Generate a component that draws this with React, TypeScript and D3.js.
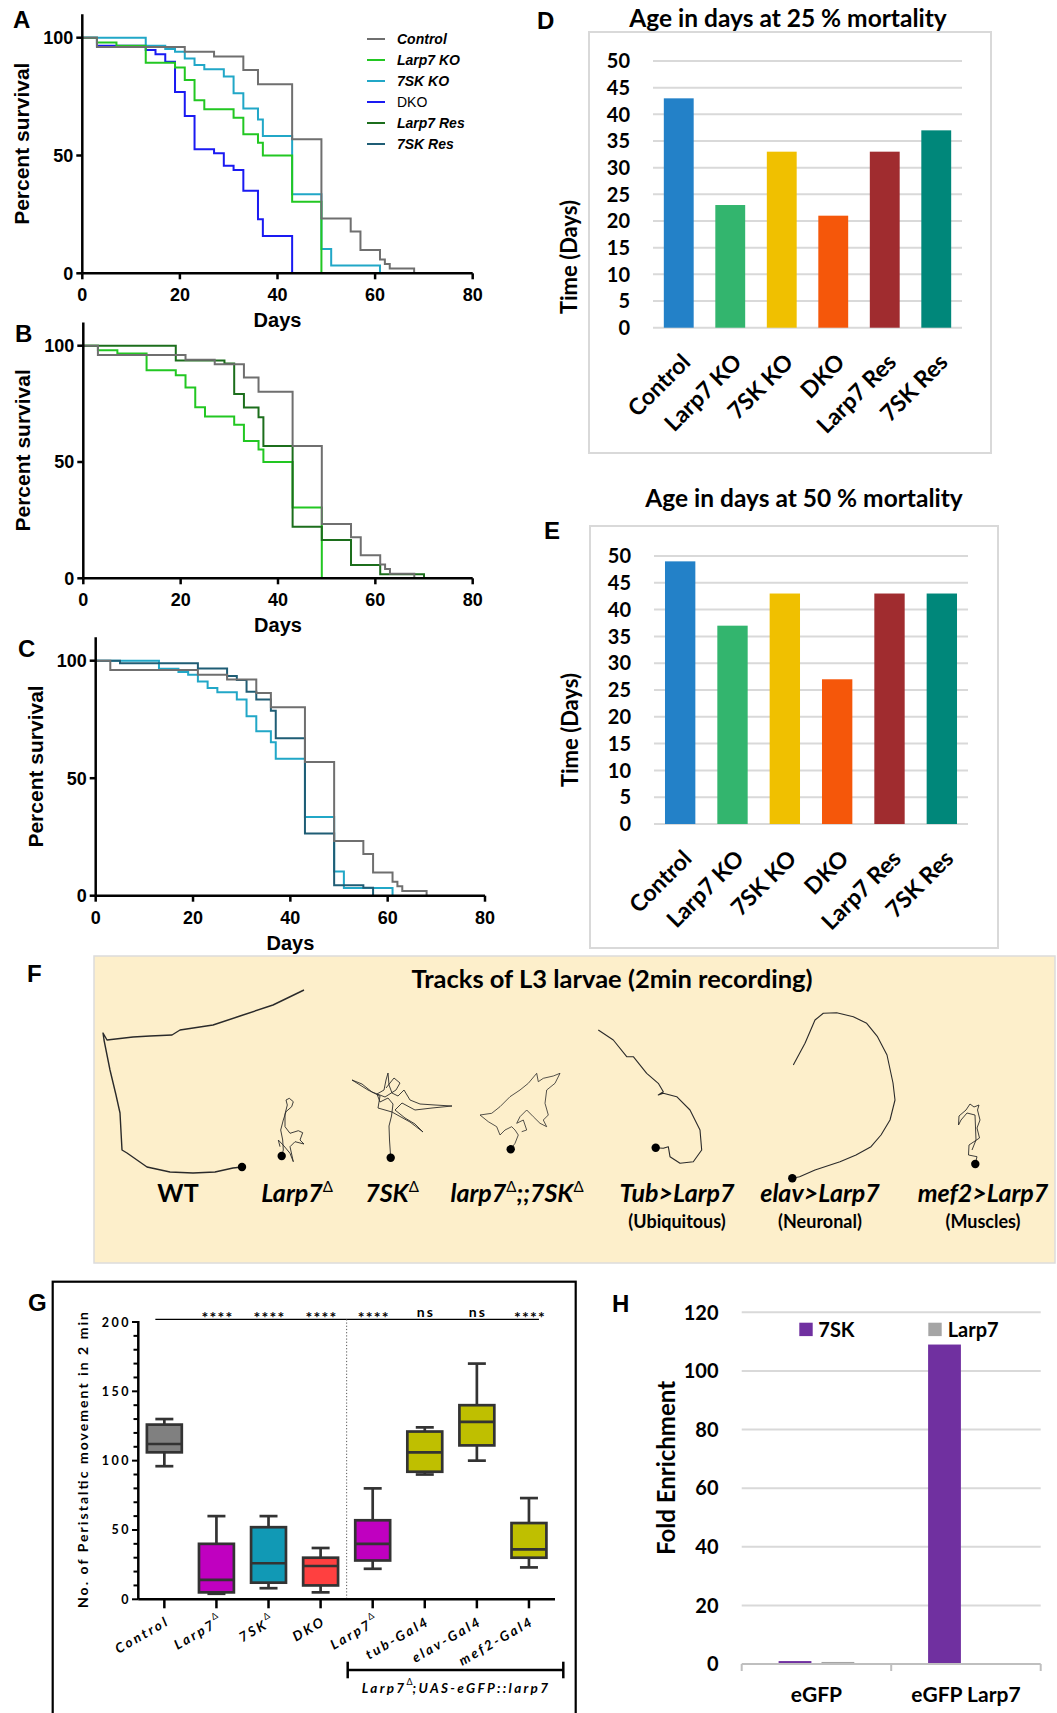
import * as React from 'react';
import * as d3 from 'd3';

const ARIAL = '"Liberation Sans", Arial, sans-serif';
const LATO = 'Lato, "Open Sans", sans-serif';

// ---- survival curves: [day, % surviving after that day] ----
const controlSurv: [number, number][] = [[0, 100], [3, 96], [21, 94], [27, 92], [33, 86.3], [36, 80.2], [43, 56.9], [49, 23.3], [55, 17.7], [57, 9.9], [61, 5.9], [62, 4], [63, 2], [68, 0]];
const larp7KoSurv: [number, number][] = [[0, 100], [3, 98], [7, 96.6], [13, 89.4], [19, 87.3], [21, 82], [23, 73.5], [25, 69.6], [31, 66], [33, 59], [36, 55.4], [37, 50], [43, 30.4], [49, 0]];
const sk7KoSurv: [number, number][] = [[0, 100], [13, 96.6], [17, 95.2], [19, 94], [21, 91.2], [23, 88.4], [25, 86.6], [29, 83.5], [31, 76.4], [33, 70], [36, 65.3], [37, 58.3], [43, 33.5], [49, 10.3], [51, 3.3], [61, 0]];
const dkoSurv: [number, number][] = [[0, 100], [3, 96.6], [13, 94.8], [15, 93], [17, 89.8], [19, 77], [21, 66.8], [23, 52.6], [27, 51], [29, 45.7], [31, 43.8], [33, 35], [36, 22.9], [37, 15.8], [43, 0]];
const larp7ResSurv: [number, number][] = [[0, 100], [19, 93.6], [29, 92.4], [31, 79.2], [33, 73.4], [36, 69.2], [37, 56.9], [43, 22.2], [49, 16.5], [55, 5.7], [61, 1.7], [70, 0]];
const sk7ResSurv: [number, number][] = [[0, 100], [5, 98.9], [21, 96.7], [27, 93.5], [29, 91.8], [31, 86.8], [33, 83.5], [36, 78.7], [37, 67], [43, 26.5], [49, 4.5], [55, 3.4], [57, 0]];

const survSeries = [controlSurv, larp7KoSurv, sk7KoSurv, dkoSurv, larp7ResSurv, sk7ResSurv];
const survNames = ['Control', 'Larp7 KO', '7SK KO', 'DKO', 'Larp7 Res', '7SK Res'];
const survColors = ['#6f6f6f', '#22c722', '#21a7c7', '#1a1af2', '#1c6e1c', '#1f5d75'];
const daysTicks = [0, 20, 40, 60, 80];
const percentTicks = [0, 50, 100];

// ---- age at 25 % / 50 % mortality ----
const mortCategories = ['Control', 'Larp7 KO', '7SK KO', 'DKO', 'Larp7 Res', '7SK Res'];
const mort25 = [43, 23, 33, 21, 33, 37];
const mort50 = [49, 37, 43, 27, 43, 43];
const mortTicks = [0, 5, 10, 15, 20, 25, 30, 35, 40, 45, 50];
const mortColors = ['#2381c8', '#33b56e', '#f0c000', '#f5570a', '#a02c2f', '#00877a'];

// ---- larval tracks (px inside the arena box, origin top-left) ----
const trackLabels = ['WT', 'Larp7^', '7SK^', 'larp7^;;7SK^', 'Tub>Larp7', 'elav>Larp7', 'mef2>Larp7'];
const trackSubLabels = ['', '', '', '', '(Ubiquitous)', '(Neuronal)', '(Muscles)'];
const trackLabelX = [84, 203, 298, 423, 583, 726, 889];
const trackWT: [number, number][] = [[210, 34], [179, 49], [146, 60], [119, 69], [86, 74], [78, 79], [56, 80], [39, 81], [13, 84], [9, 77], [10, 84], [16, 114], [22, 139], [26, 157], [28, 194], [33, 197], [53, 211], [76, 216], [99, 217], [121, 216], [139, 212], [148, 211]];
const trackLarp7: [number, number][] = [[187.7, 200], [189.3, 194], [188.7, 184], [186.7, 174], [189.3, 164], [192, 155.7], [197.7, 150.7], [199.3, 145.7], [195.3, 142.3], [192, 144], [193.3, 149], [191, 158], [191, 170.7], [196, 177.3], [204.3, 174.7], [208.7, 176.7], [206, 184], [210, 188], [201, 185.7], [196, 190.7], [199.3, 205.7], [196, 197.3], [190, 190], [184.3, 184], [186, 190.7]];
const track7SK: [number, number][] = [[296.7, 201.7], [295.5, 184], [295, 170], [297.5, 160], [299, 148], [294, 142], [286, 146], [283, 138], [290, 134], [292, 124], [294, 117], [295, 129], [298, 137], [304, 140], [310, 134], [316, 144], [326, 148], [341, 149], [358, 150], [338, 152], [321, 154], [308, 147], [301, 154], [311, 162], [321, 168], [329, 176], [316, 166], [298, 156], [284, 152], [286, 140], [274, 134], [258, 124], [268, 128], [278, 136], [291, 141], [302, 134], [306, 127], [300, 122], [292, 132]];
const trackDouble: [number, number][] = [[416.7, 193.3], [421, 187.3], [424.3, 179], [421, 174], [417.7, 170.7], [411, 174], [406, 179], [402.7, 170.7], [394.3, 165.7], [386, 159], [397.7, 157.3], [406, 150.7], [416, 140.7], [426, 134], [434.3, 127.3], [442.7, 117.3], [444.3, 125.7], [449.3, 122.3], [459.3, 120], [466, 117.3], [461, 127.3], [452.7, 134], [451, 147.3], [454.3, 159], [449.3, 164], [452.7, 170.7], [446, 167.3], [439.3, 160.7], [432.7, 154], [426, 160.7], [422.7, 167.3], [429.3, 164], [432.7, 174], [427.7, 175.7]];
const trackTub: [number, number][] = [[504.3, 74], [519.3, 84], [532.7, 100.7], [539.3, 100.7], [552.7, 117.3], [564.3, 127.3], [569.3, 135.7], [564.3, 139], [569.3, 137.3], [582.7, 140.7], [596, 154], [606, 174], [607.7, 194], [599.3, 205.7], [586, 207.3], [576, 200.7], [574.3, 190.7], [569.3, 192.3], [561.7, 191.7]];
const trackElav: [number, number][] = [[699.3, 109], [711, 87.3], [721, 64], [729.3, 57.3], [742.7, 56.7], [759.3, 60.7], [772.7, 67.3], [783.5, 80.7], [793, 99], [799, 127], [801, 144], [796, 164], [787, 179], [777, 190.7], [762, 199], [746, 205.7], [721, 214], [705.6, 220.7], [698.3, 222.3]];
const trackMef2: [number, number][] = [[881.3, 208], [883, 200.7], [874.5, 199], [875, 189], [885.5, 182], [883, 172], [886, 164], [883.5, 154], [885, 149], [880, 151], [876, 148], [872, 154], [865, 160], [864.5, 169], [867, 164], [873, 157], [881, 159], [882, 184], [878, 194]];
const trackPaths = [trackWT, trackLarp7, track7SK, trackDouble, trackTub, trackElav, trackMef2];
const trackDots: [number, number][] = [[148, 211], [187.7, 200], [296.7, 201.7], [416.7, 193.3], [561.7, 191.7], [698.3, 222.3], [881.3, 208]];
const trackWidths = [1.4, 0.9, 0.9, 0.8, 1.1, 1.1, 0.9];

// ---- peristaltic movement box plots ----
const gCategories = ['Control', 'Larp7^', '7SK^', 'DKO', 'Larp7^', 'tub-Gal4', 'elav-Gal4', 'mef2-Gal4'];
const gMin = [96, 4, 8, 5, 22, 90, 100, 23];
const gQ1 = [106, 5, 12, 10, 28, 92, 111, 30];
const gMedian = [112, 14, 26, 24, 40, 106, 128, 36];
const gQ3 = [126, 40, 52, 30, 57, 121, 140, 55];
const gMax = [130, 60, 60, 37, 80, 124, 170, 73];
const gSignif = ['', '****', '****', '****', '****', 'ns', 'ns', '****'];
const gTicks = [0, 50, 100, 150, 200];
const gColors = ['#808080', '#c000c0', '#1199b5', '#ff4040', '#c000c0', '#bfbf00', '#bfbf00', '#bfbf00'];

// ---- RIP enrichment ----
const hGroups = ['eGFP', 'eGFP Larp7'];
const hSeries = ['7SK', 'Larp7'];
const h7SK = [1.0, 109];
const hLarp7 = [0.7, 0.2];
const hTicks = [0, 20, 40, 60, 80, 100, 120];
const hColors = ['#7030a0', '#a5a5a5'];

function rich(label: string, supSize: number, rise: number, key: string) {
  const parts = label.split('^');
  const out: React.ReactNode[] = [];
  parts.forEach((p, i) => {
    if (p) out.push(<tspan key={key + 't' + i} dy={i > 0 ? rise : 0}>{p}</tspan>);
    if (i < parts.length - 1)
      out.push(<tspan key={key + 's' + i} dy={-rise} fontSize={supSize} fontStyle="normal" fontWeight="normal" letterSpacing={0}>Δ</tspan>);
  });
  return out;
}

function SurvivalPanel({ ids, left, right, bottom, top, legend }: { ids: number[]; left: number; right: number; bottom: number; top: number; legend?: boolean }) {
  const x = d3.scaleLinear().domain([0, 80]).range([left, right]);
  const y = d3.scaleLinear().domain([0, 100]).range([bottom, top]);
  const line = d3.line<[number, number]>().x(d => x(d[0])).y(d => y(d[1])).curve(d3.curveStepAfter);
  return (
    <g>
      {ids.map(i => (
        <path key={i} d={line(survSeries[i]) || ''} fill="none" stroke={survColors[i]} strokeWidth={2} />
      ))}
      <line x1={left} x2={left} y1={y(0)} y2={y(110)} stroke="#000" strokeWidth={2.5} />
      <line x1={left} x2={x(80)} y1={y(0)} y2={y(0)} stroke="#000" strokeWidth={2.5} />
      {percentTicks.map(t => (
        <g key={'p' + t}>
          <line x1={left - 6} x2={left} y1={y(t)} y2={y(t)} stroke="#000" strokeWidth={2.5} />
          <text x={left - 9} y={y(t)} dy="0.36em" textAnchor="end" fontFamily={ARIAL} fontWeight="bold" fontSize={18}>{t}</text>
        </g>
      ))}
      {daysTicks.map(t => (
        <g key={'d' + t}>
          <line x1={x(t)} x2={x(t)} y1={y(0)} y2={y(0) + 6} stroke="#000" strokeWidth={2.5} />
          <text x={x(t)} y={y(0) + 28} textAnchor="middle" fontFamily={ARIAL} fontWeight="bold" fontSize={18}>{t}</text>
        </g>
      ))}
      <text x={x(40)} y={y(0) + 54} textAnchor="middle" fontFamily={ARIAL} fontWeight="bold" fontSize={20}>Days</text>
      <text transform={`translate(${left - 53},${y(55)}) rotate(-90)`} textAnchor="middle" fontFamily={ARIAL} fontWeight="bold" fontSize={21}>Percent survival</text>
      {legend && survNames.map((n, i) => (
        <g key={n}>
          <line x1={367} x2={385} y1={39 + i * 21} y2={39 + i * 21} stroke={survColors[i]} strokeWidth={2} />
          <text x={397} y={39 + i * 21} dy="0.36em" fontFamily={ARIAL} fontSize={14} fontWeight={n === 'DKO' ? 'normal' : 'bold'} fontStyle={n === 'DKO' ? 'normal' : 'italic'}>{n}</text>
        </g>
      ))}
    </g>
  );
}

function BarPanel({ values, title, titleX, titleY, frame, plot, yLabelX, yLabelY }: any) {
  const x = d3.scaleBand<string>().domain(mortCategories).range([plot.left, plot.right]).paddingInner(0.42).paddingOuter(0.21);
  const y = d3.scaleLinear().domain([0, 50]).range([plot.bottom, plot.top]);
  return (
    <g>
      <rect x={frame.x} y={frame.y} width={frame.w} height={frame.h} fill="#fff" stroke="#d9d9d9" strokeWidth={2} />
      <text x={titleX} y={titleY} textAnchor="middle" fontFamily={LATO} fontWeight="bold" fontSize={24.5}>{title}</text>
      {mortTicks.map(t => (
        <g key={t}>
          <line x1={plot.left} x2={plot.right} y1={y(t)} y2={y(t)} stroke="#d9d9d9" strokeWidth={2} />
          <text x={plot.left - 23} y={y(t)} dy="0.36em" textAnchor="end" fontFamily={LATO} fontWeight="bold" fontSize={20}>{t}</text>
        </g>
      ))}
      {mortCategories.map((c, i) => (
        <rect key={c} x={x(c)} y={y(values[i])} width={x.bandwidth()} height={y(0) - y(values[i])} fill={mortColors[i]} />
      ))}
      {mortCategories.map(c => (
        <text key={'l' + c} transform={`translate(${(x(c) as number) + x.bandwidth() / 2 + 13},${y(0) + 36}) rotate(-45)`} textAnchor="end" fontFamily={LATO} fontWeight="bold" fontSize={23}>{c}</text>
      ))}
      <text transform={`translate(${yLabelX},${yLabelY}) rotate(-90)`} textAnchor="middle" fontFamily={LATO} fontWeight="bold" fontSize={22}>Time (Days)</text>
    </g>
  );
}

function TracksPanel() {
  const box = { x: 94, y: 956, w: 961, h: 307 };
  const tx = d3.scaleLinear().domain([0, box.w]).range([box.x, box.x + box.w]);
  const ty = d3.scaleLinear().domain([0, box.h]).range([box.y, box.y + box.h]);
  const line = d3.line<[number, number]>().x(d => tx(d[0])).y(d => ty(d[1])).curve(d3.curveLinear);
  return (
    <g>
      <rect x={box.x} y={box.y} width={box.w} height={box.h} fill="#fdefcb" stroke="#dcdcdc" strokeWidth={1.5} />
      <text x={612} y={988} textAnchor="middle" fontFamily={LATO} fontWeight="bold" fontSize={25.5}>Tracks of L3 larvae (2min recording)</text>
      {trackPaths.map((p, i) => (
        <path key={i} d={line(p) || ''} fill="none" stroke="#2a2a2a" strokeWidth={trackWidths[i]} strokeLinejoin="round" />
      ))}
      {trackDots.map((d, i) => (
        <circle key={'c' + i} cx={tx(d[0])} cy={ty(d[1])} r={4.2} fill="#000" />
      ))}
      {trackLabels.map((l, i) => (
        <text key={'t' + i} x={tx(trackLabelX[i])} y={1202} textAnchor="middle" fontFamily={LATO} fontWeight="bold" fontStyle={i === 0 ? 'normal' : 'italic'} fontSize={25}>
          {rich(l, 15, 10, 'f' + i)}
        </text>
      ))}
      {trackSubLabels.map((l, i) => l && (
        <text key={'s' + i} x={tx(trackLabelX[i])} y={1228} textAnchor="middle" fontFamily={LATO} fontWeight="bold" fontSize={18}>{l}</text>
      ))}
    </g>
  );
}

function BoxPanel() {
  const x = d3.scaleBand<number>().domain(d3.range(gCategories.length)).range([138.3, 555]).paddingInner(0.33).paddingOuter(0.165);
  const y = d3.scaleLinear().domain([0, 200]).range([1599.3, 1322]);
  const cx = (i: number) => (x(i) as number) + x.bandwidth() / 2;
  const minor = d3.range(0, 201, 10);
  const splitX = (cx(3) + cx(4)) / 2;
  const sw = 2.7;
  return (
    <g>
      <rect x={52.7} y={1281.7} width={523} height={460} fill="none" stroke="#000" strokeWidth={2.2} />
      <line x1={cx(0) - 9} x2={cx(7) + 10} y1={1319.3} y2={1319.3} stroke="#000" strokeWidth={1.3} />
      {gSignif.map((s, i) => s && (
        <text key={'s' + i} x={cx(i) + 1} y={s === 'ns' ? 1316.5 : 1322.5} textAnchor="middle" fontFamily={LATO} fontWeight="bold" fontSize={s === 'ns' ? 14 : 16} letterSpacing={s === 'ns' ? 2 : 1.2}>{s}</text>
      ))}
      <line x1={splitX} x2={splitX} y1={1319.3} y2={1599.3} stroke="#555" strokeWidth={1} strokeDasharray="1.2 2" />
      {gCategories.map((c, i) => (
        <g key={'b' + i}>
          <line x1={cx(i)} x2={cx(i)} y1={y(gMax[i])} y2={y(gMin[i])} stroke="#333" strokeWidth={sw} />
          <line x1={cx(i) - 9} x2={cx(i) + 9} y1={y(gMax[i])} y2={y(gMax[i])} stroke="#333" strokeWidth={sw} />
          <line x1={cx(i) - 9} x2={cx(i) + 9} y1={y(gMin[i])} y2={y(gMin[i])} stroke="#333" strokeWidth={sw} />
          <rect x={x(i)} y={y(gQ3[i])} width={x.bandwidth()} height={y(gQ1[i]) - y(gQ3[i])} fill={gColors[i]} stroke="#333" strokeWidth={sw} />
          <line x1={x(i)} x2={(x(i) as number) + x.bandwidth()} y1={y(gMedian[i])} y2={y(gMedian[i])} stroke="#333" strokeWidth={sw} />
        </g>
      ))}
      <line x1={138.3} x2={138.3} y1={y(0)} y2={y(200) - 1} stroke="#000" strokeWidth={2.5} />
      <line x1={138.3} x2={555} y1={y(0)} y2={y(0)} stroke="#000" strokeWidth={2.5} />
      {minor.map(t => (
        <line key={'m' + t} x1={t % 50 === 0 ? 132 : 133.5} x2={138.3} y1={y(t)} y2={y(t)} stroke="#000" strokeWidth={2} />
      ))}
      {gTicks.map(t => (
        <text key={'t' + t} x={131} y={y(t)} dy="0.36em" textAnchor="end" fontFamily={LATO} fontWeight="bold" fontSize={12.5} letterSpacing={2.5}>{t}</text>
      ))}
      {gCategories.map((c, i) => (
        <g key={'x' + i}>
          <line x1={cx(i)} x2={cx(i)} y1={y(0)} y2={y(0) + 9} stroke="#000" strokeWidth={2.5} />
          <text transform={`translate(${cx(i) + 6},${1624}) rotate(-30)`} textAnchor="end" fontFamily={LATO} fontWeight="bold" fontStyle="italic" fontSize={13.5} letterSpacing={2.5}>
            {rich(c, 9, 8, 'g' + i)}
          </text>
        </g>
      ))}
      <text transform="translate(88.3,1460) rotate(-90)" textAnchor="middle" fontFamily={LATO} fontWeight="bold" fontSize={14} textLength={296} lengthAdjust="spacing">No. of Peristaltic movement in 2 min</text>
      <line x1={347.7} x2={563.3} y1={1670} y2={1670} stroke="#000" strokeWidth={2.5} />
      <line x1={347.7} x2={347.7} y1={1661.7} y2={1678.3} stroke="#000" strokeWidth={2.5} />
      <line x1={563.3} x2={563.3} y1={1661.7} y2={1678.3} stroke="#000" strokeWidth={2.5} />
      <text x={456} y={1693} textAnchor="middle" fontFamily={LATO} fontWeight="bold" fontStyle="italic" fontSize={13.5} letterSpacing={2.3}>
        {rich('Larp7^;UAS-eGFP::larp7', 9, 8, 'br')}
      </text>
    </g>
  );
}

function EnrichPanel() {
  const x0 = d3.scaleBand<string>().domain(hGroups).range([741.7, 1040.7]);
  const x1 = d3.scaleBand<string>().domain(hSeries).range([0, x0.bandwidth()]).paddingInner(0.235).paddingOuter(0.86);
  const y = d3.scaleLinear().domain([0, 120]).range([1664, 1312.3]);
  const vals = [h7SK, hLarp7];
  return (
    <g>
      {hTicks.map(t => (
        <g key={t}>
          {t > 0 && <line x1={741.7} x2={1040.7} y1={y(t)} y2={y(t)} stroke="#d9d9d9" strokeWidth={2} />}
          <text x={718.5} y={y(t)} dy="0.36em" textAnchor="end" fontFamily={LATO} fontWeight="bold" fontSize={20}>{t}</text>
        </g>
      ))}
      {hGroups.map((g, gi) => hSeries.map((s, si) => (
        <rect key={g + s} x={(x0(g) as number) + (x1(s) as number)} y={y(vals[si][gi])} width={x1.bandwidth()} height={y(0) - y(vals[si][gi])} fill={hColors[si]} />
      )))}
      <line x1={741.7} x2={1040.7} y1={y(0)} y2={y(0)} stroke="#bfbfbf" strokeWidth={2} />
      {[...hGroups.map(g => x0(g) as number), 1040.7].map((v, i) => (
        <line key={'k' + i} x1={v} x2={v} y1={y(0)} y2={y(0) + 7} stroke="#bfbfbf" strokeWidth={2} />
      ))}
      {hGroups.map(g => (
        <text key={'l' + g} x={(x0(g) as number) + x0.bandwidth() / 2} y={1702} textAnchor="middle" fontFamily={LATO} fontWeight="bold" fontSize={21}>{g}</text>
      ))}
      {hSeries.map((s, i) => (
        <g key={'g' + s}>
          <rect x={799.3 + i * 129} y={1322.7} width={13.4} height={13.4} fill={hColors[i]} />
          <text x={818.3 + i * 129.4} y={1337} fontFamily={LATO} fontWeight="bold" fontSize={20}>{s}</text>
        </g>
      ))}
      <text transform="translate(675,1468) rotate(-90)" textAnchor="middle" fontFamily={LATO} fontWeight="bold" fontSize={24}>Fold Enrichment</text>
    </g>
  );
}

export default function App() {
  const letters: [string, number, number][] = [['A', 13, 28], ['B', 15, 342], ['C', 18, 657], ['D', 537, 29], ['E', 544, 539], ['F', 27, 982], ['G', 28, 1311], ['H', 612, 1312]];
  return (
    <div style={{ position: 'absolute', left: 0, top: 0 }}>
      <svg width={1057} height={1713} style={{ display: 'block', background: '#fff' }}>
        <SurvivalPanel ids={[3, 2, 1, 0]} left={82.3} right={472.7} bottom={273.3} top={37.7} legend />
        <SurvivalPanel ids={[1, 4, 0]} left={83.3} right={472.7} bottom={578.3} top={345.7} />
        <SurvivalPanel ids={[2, 5, 0]} left={95.7} right={485} bottom={895.7} top={660.7} />
        <BarPanel values={mort25} title="Age in days at 25 % mortality" titleX={788} titleY={27}
          frame={{ x: 589, y: 32, w: 402, h: 421 }} plot={{ left: 653, right: 962, bottom: 327.7, top: 61 }} yLabelX={577} yLabelY={257} />
        <BarPanel values={mort50} title="Age in days at 50 % mortality" titleX={804} titleY={507}
          frame={{ x: 590, y: 526, w: 408, h: 422 }} plot={{ left: 654, right: 968, bottom: 824, top: 556 }} yLabelX={578} yLabelY={730} />
        <TracksPanel />
        <BoxPanel />
        <EnrichPanel />
        {letters.map(([l, x, y]) => (
          <text key={l} x={x} y={y} fontFamily={ARIAL} fontWeight="bold" fontSize={24}>{l}</text>
        ))}
      </svg>
    </div>
  );
}
